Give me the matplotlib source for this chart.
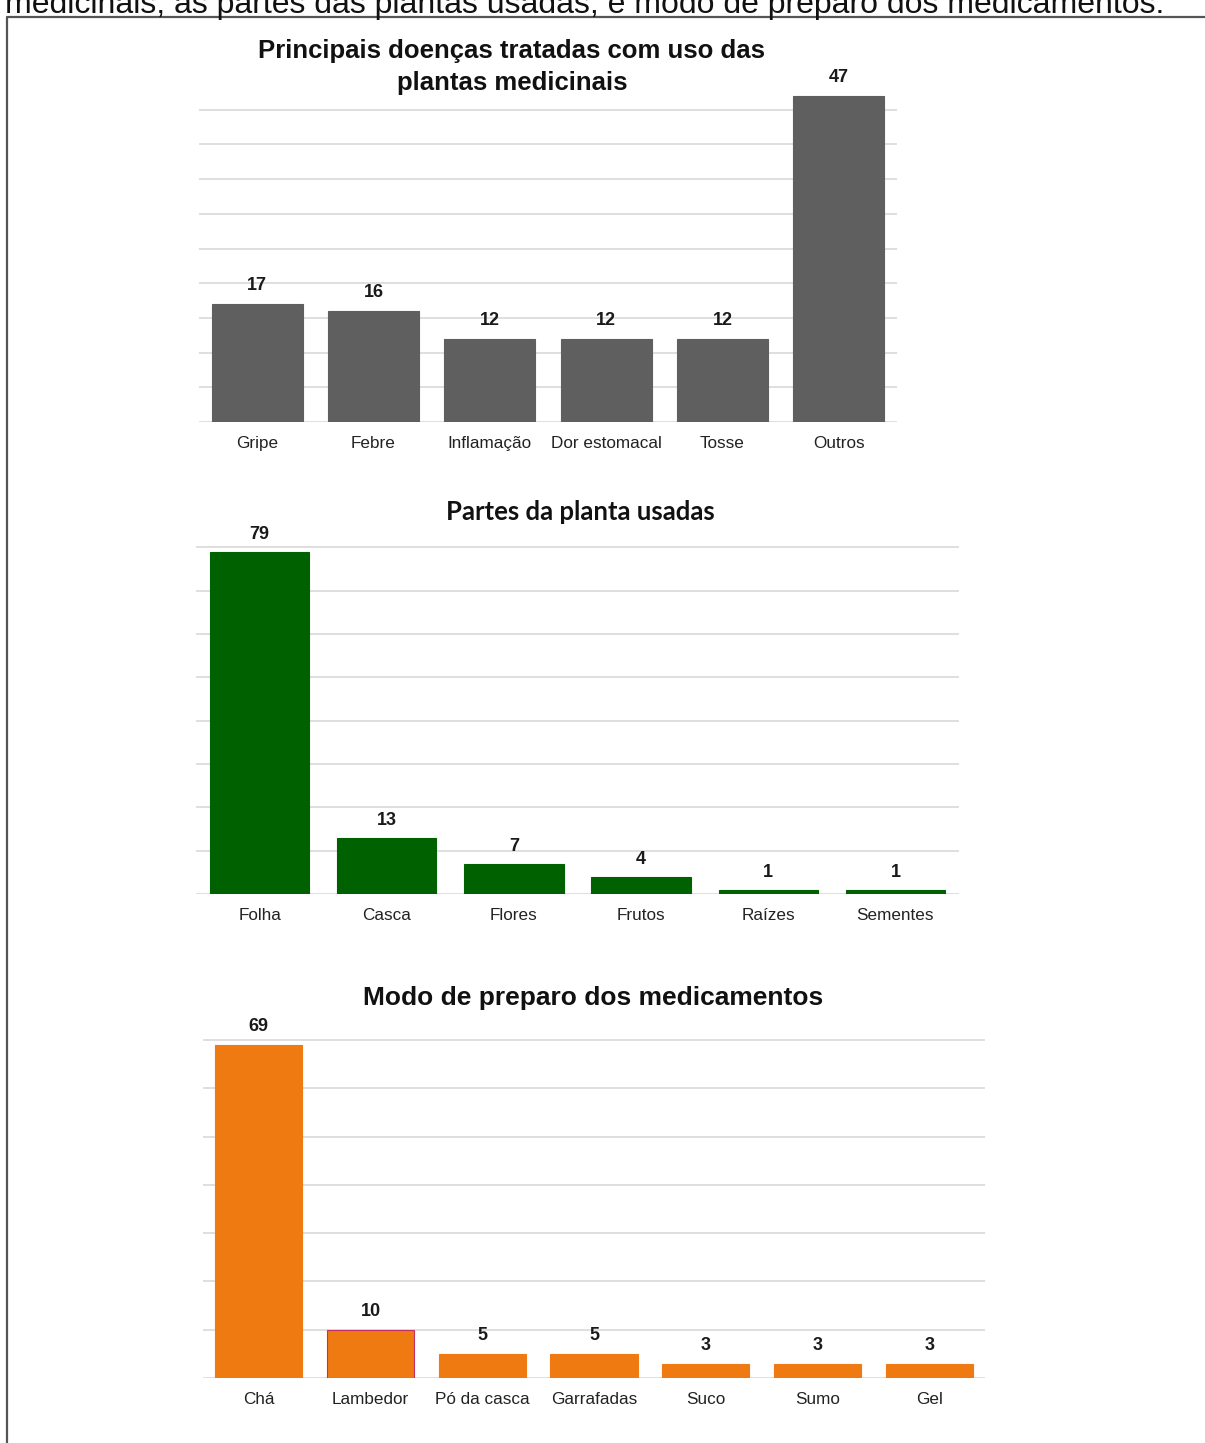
import matplotlib
matplotlib.use("Agg")
import matplotlib.pyplot as plt
from matplotlib.lines import Line2D

# Data
doencas = ["Gripe", "Febre", "Inflamação", "Dor estomacal", "Tosse", "Outros"]
doencas_vals = [17, 16, 12, 12, 12, 47]
partes = ["Folha", "Casca", "Flores", "Frutos", "Raízes", "Sementes"]
partes_vals = [79, 13, 7, 4, 1, 1]
preparo = ["Chá", "Lambedor", "Pó da casca", "Garrafadas", "Suco", "Sumo", "Gel"]
preparo_vals = [69, 10, 5, 5, 3, 3, 3]

title1 = "Principais doenças tratadas com uso das\nplantas medicinais"
title2 = "Partes da planta usadas"
title3 = "Modo de preparo dos medicamentos"
caption = "medicinais, as partes das plantas usadas, e modo de preparo dos medicamentos."

W, H = 1205, 1443
fig = plt.figure(figsize=(W / 100, H / 100), dpi=100)
fig.patch.set_facecolor("white")

FONT = ["Liberation Sans", "DejaVu Sans"]


def px_axes(left, right, top, bottom):
    return fig.add_axes([left / W, 1 - bottom / H, (right - left) / W, (bottom - top) / H])


def draw(ax, cats, vals, color, ymax, step, ngrid, off, edge=None):
    x = range(len(cats))
    ax.bar(x, vals, width=0.78, color=color, edgecolor=edge if edge else color, linewidth=0.8, zorder=3)
    ax.set_xlim(-0.5, len(cats) - 0.5)
    ax.set_ylim(0, ymax)
    for i in range(ngrid + 1):
        ax.axhline(i * step, color="#d9d9d9", linewidth=1.2, zorder=1)
    for s in ax.spines.values():
        s.set_visible(False)
    ax.set_yticks([])
    ax.set_xticks(list(x))
    ax.set_xticklabels(cats, fontsize=12.3, family=FONT, color="#222222")
    ax.tick_params(axis="x", length=0, pad=10)
    for xi, v in zip(x, vals):
        ax.annotate(str(v), (xi, v), xytext=(0, off), textcoords="offset points",
                    ha="center", va="bottom", fontsize=13, fontweight="bold",
                    family=FONT, color="#1a1a1a")


ax1 = px_axes(199, 897, 75, 422)
draw(ax1, doencas, doencas_vals, "#5f5f5f", 50, 5, 9, 7)
fig.text(512 / W, 1 - 67 / H, title1, ha="center", va="center", fontsize=18.5,
         fontweight="bold", family=FONT, color="#111111", linespacing=1.38)

ax2 = px_axes(196, 959, 545, 894)
draw(ax2, partes, partes_vals, "#006100", 80.5, 10, 8, 6)
fig.text(580 / W, 1 - 512 / H, title2, ha="center", va="center", fontsize=18.5,
         fontweight="bold", family=["Lato", "DejaVu Sans"], color="#111111")

ax3 = px_axes(203, 985, 1038, 1378)
draw(ax3, preparo, preparo_vals, "#f07a12", 70.4, 10, 7, 7)
ax3.patches[1].set_edgecolor("#c03060")
fig.text(593 / W, 1 - 998 / H, title3, ha="center", va="center", fontsize=19,
         fontweight="bold", family=FONT, color="#111111")

# caption (partly cut off at top, as in the source)
fig.text(5 / W, 1 - 13 / H, caption, ha="left", va="baseline", fontsize=23,
         family=FONT, color="#111111")

# frame border (top and left visible)
fig.add_artist(Line2D([7 / W, 7 / W, 1.0], [0.0, 1 - 17 / H, 1 - 17 / H],
                      transform=fig.transFigure, color="#555555", linewidth=1.6))

fig.savefig("out.png", dpi=100, facecolor="white")
